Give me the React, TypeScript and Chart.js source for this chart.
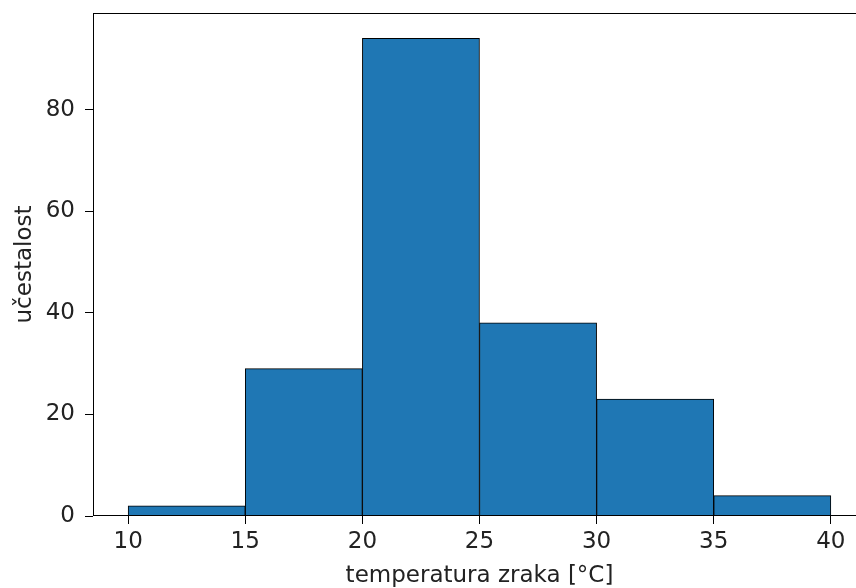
import React, { useEffect, useRef } from "react";
import { Chart, registerables } from "chart.js";

Chart.register(...registerables);

// Histogram data
const binStarts = [10, 15, 20, 25, 30, 35];
const binWidth = 5;
const counts = [2, 29, 94, 38, 23, 4];
const xTicks = [10, 15, 20, 25, 30, 35, 40];
const yTicks = [0, 20, 40, 60, 80];
const xLabel = "temperatura zraka [°C]";
const yLabel = "učestalost";

const FONT = "DejaVu Sans";
const FS = 23;
const TEXT = "#222";

const framePlugin = {
  id: "frame",
  afterDraw(chart: any) {
    const { ctx, chartArea: a } = chart;
    ctx.save();
    ctx.strokeStyle = "#000";
    ctx.lineWidth = 1;
    const l = Math.round(a.left) + 0.5;
    const t = Math.round(a.top) + 0.5;
    const r = Math.round(a.right) - 0.5;
    const b = Math.round(a.bottom) - 0.5;
    ctx.strokeRect(l, t, r - l, b - t);
    ctx.restore();
  },
};

export default function App() {
  const ref = useRef<HTMLCanvasElement | null>(null);

  useEffect(() => {
    if (!ref.current) return;
    const data = binStarts.map((s, i) => ({ x: s + binWidth / 2, y: counts[i] }));
    const chart = new Chart(ref.current, {
      type: "bar",
      data: {
        datasets: [
          {
            data,
            backgroundColor: "#1f77b4",
            borderColor: "#000",
            borderWidth: 1,
            barPercentage: 1,
            categoryPercentage: 1,
          } as any,
        ],
      },
      options: {
        animation: false,
        responsive: false,
        devicePixelRatio: 1,
        layout: { padding: { top: 13, right: 4, left: 0, bottom: 0 } },
        plugins: { legend: { display: false }, tooltip: { enabled: false } },
        scales: {
          x: {
            type: "linear",
            min: 8.5,
            max: 41.5,
            offset: false,
            afterBuildTicks: (s: any) => {
              s.ticks = xTicks.map((v) => ({ value: v }));
            },
            afterFit: (s: any) => {
              s.height = 72;
              s.paddingLeft = 0;
              s.paddingRight = 0;
            },
            grid: {
              display: true,
              offset: false,
              drawOnChartArea: false,
              drawTicks: true,
              tickLength: 8,
              color: "#000",
              lineWidth: 1,
            },
            border: { display: false },
            ticks: {
              color: TEXT,
              font: { family: FONT, size: FS },
              padding: 4,
              maxRotation: 0,
              autoSkip: false,
            },
            title: {
              display: true,
              text: xLabel,
              color: TEXT,
              font: { family: FONT, size: FS, lineHeight: 1.05 },
              padding: { top: 0, bottom: 0 },
            },
          },
          y: {
            type: "linear",
            min: 0,
            max: 99,
            afterBuildTicks: (s: any) => {
              s.ticks = yTicks.map((v) => ({ value: v }));
            },
            afterFit: (s: any) => {
              s.width = 93;
              s.paddingTop = 0;
              s.paddingBottom = 0;
            },
            grid: {
              display: true,
              drawOnChartArea: false,
              drawTicks: true,
              tickLength: 8,
              color: "#000",
              lineWidth: 1,
            },
            border: { display: false },
            ticks: {
              color: TEXT,
              font: { family: FONT, size: FS },
              padding: 10,
            },
            title: {
              display: true,
              text: yLabel,
              color: TEXT,
              font: { family: FONT, size: FS },
              padding: { top: 11, bottom: 0 },
            },
          },
        },
      },
      plugins: [framePlugin],
    });
    return () => chart.destroy();
  }, []);

  return (
    <div
      style={{
        position: "fixed",
        left: 0,
        top: 0,
        width: 856,
        height: 588,
        overflow: "hidden",
        background: "#fff",
      }}
    >
      <canvas ref={ref} width={870} height={588} style={{ display: "block" }} />
    </div>
  );
}
